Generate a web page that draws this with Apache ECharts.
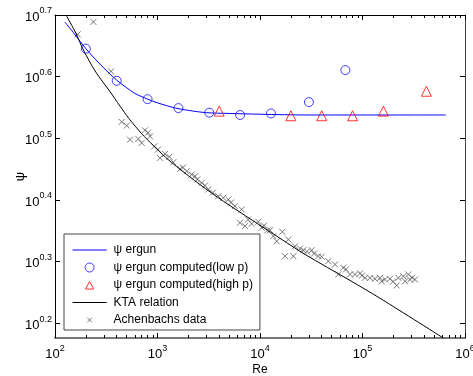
<!DOCTYPE html>
<html>
<head>
<meta charset="utf-8">
<script src="https://cdn.jsdelivr.net/npm/echarts@6/dist/echarts.min.js"></script>
<style>
html,body{margin:0;padding:0;background:#fff;}
#chart{width:473px;height:376px;}
</style>
</head>
<body>
<div id="chart"></div>
<script>
// ---- data ----
const ergunRe  = [125,150,200,250,300,400,500,600,800,1000,1500,2000,3000,5000,10000,30000,100000,300000,650000];
const ergunPsi = [4.88,4.70,4.42,4.24,4.11,3.93,3.82,3.74,3.66,3.61,3.54,3.51,3.48,3.47,3.46,3.45,3.45,3.45,3.45];

const lowRe  = [200,400,800,1600,3200,6400,12800,30000,68000];
const lowPsi = [4.42,3.92,3.66,3.54,3.48,3.45,3.47,3.62,4.08];

const highRe  = [4000,20000,40000,80000,160000,420000];
const highPsi = [3.50,3.44,3.44,3.44,3.50,3.77];

const ktaRe  = [130,160,189,250,344,430,527,700,910,1200,1540,2600,4390,12050,27480,75500,148200,614000];
const ktaPsi = [4.99,4.68,4.40,4.05,3.765,3.568,3.404,3.218,3.078,2.945,2.845,2.66,2.50,2.24,2.05,1.86,1.74,1.50];

const achRe = [237,166.5,352,447,501,755,845,539,650,701,931,1058,1184,1304,1426,1658,1927,2157,2323,2446,2699,3131,3920,4385,4906,5702,6630,6381,7139,8299,9625,10390,11780,12520,14560,16510,13490,18890,17540,21140,21950,26450,31940,37060,39990,46390,53920,58070,64960,75510,84520,94540,105800,118400,132400,148200,153900,165800,185500,215700,223600,250000,259800,279800,290700,325200,808,1011,1774,2907,3479,5213,7637,10940,24560,28730,33640,69020,98880,198400,304000];
const achPsi = [4.884,4.663,4.061,3.362,3.316,3.258,3.185,3.147,3.155,3.108,3.069,2.939,2.983,2.951,2.892,2.821,2.796,2.762,2.745,2.711,2.678,2.612,2.547,2.532,2.516,2.454,2.424,2.307,2.278,2.298,2.315,2.264,2.241,2.243,2.153,2.230,2.194,2.167,2.036,2.036,2.113,2.082,2.082,2.036,2.032,1.998,1.974,1.902,1.950,1.902,1.902,1.909,1.878,1.878,1.871,1.878,1.854,1.866,1.871,1.825,1.878,1.889,1.854,1.902,1.866,1.866,3.230,3.032,2.835,2.651,2.582,2.488,2.334,2.283,2.095,2.072,2.056,1.938,1.894,1.852,1.880];

const xTickExp = ['2','3','4','5','6'];
const yTickExp = ['0.2','0.3','0.4','0.5','0.6','0.7'];
const seriesNames = ['\u03c8 ergun','\u03c8 ergun computed(low p)','\u03c8 ergun computed(high p)','KTA relation','Achenbachs data'];

// ---- build ----
const zip = (a,b) => a.map((v,i)=>[v,b[i]]);
const xMajor = xTickExp.map(e => Math.pow(10, +e));
const yMajor = yTickExp.map(e => Math.pow(10, +e));
const xMinor = [];
for (let d = 2; d < 6; d++) for (let m = 2; m <= 9; m++) xMinor.push(m * Math.pow(10, d));
const XMIN = 100, XMAX = 1e6, YMIN = 1.5, YMAX = Math.pow(10, 0.7) * 1.0000001;
const FONT = "'Liberation Sans Narrow','Arial Narrow','Liberation Sans',Arial,sans-serif";

function fmt(exps) {
  return function (v) {
    const lv = Math.log10(v);
    let best = exps[0], bd = 1e9;
    exps.forEach(e => { const d = Math.abs(+e - lv); if (d < bd) { bd = d; best = e; } });
    return '{b|10}{s|' + best + '}';
  };
}
const rich = {
  b: {fontSize: 13, fontFamily: FONT, color: '#000', lineHeight: 17, verticalAlign: 'bottom'},
  s: {fontSize: 9, fontFamily: FONT, color: '#000', lineHeight: 9, verticalAlign: 'top'}
};

function xAx(position, major, showLabel) {
  return {
    type: 'log', logBase: 10, min: XMIN, max: XMAX, position: position, gridIndex: 0,
    axisLine: {show: major, lineStyle: position === 'bottom' ? {color: '#777', width: 2} : {color: '#000', width: 1}},
    axisTick: {show: true, inside: true, length: major ? 5 : 3, customValues: major ? xMajor : xMinor,
               lineStyle: {color: '#000', width: 1}},
    axisLabel: {show: showLabel, customValues: xMajor, formatter: fmt(xTickExp), rich: rich, margin: 6,
                showMinLabel: true, showMaxLabel: true, hideOverlap: false},
    splitLine: {show: false}, minorTick: {show: false},
    name: showLabel ? 'Re' : '', nameLocation: 'middle', nameGap: 26, nameMoveOverlap: false,
    nameTextStyle: {fontSize: 12, fontFamily: FONT, color: '#000'}
  };
}
function yAx(position, showLabel) {
  return {
    type: 'log', logBase: 10, min: YMIN, max: YMAX, position: position, gridIndex: 0,
    axisLine: {show: true, lineStyle: {color: position === 'left' ? '#000' : '#444', width: 1}},
    axisTick: {show: true, inside: true, length: 5, customValues: yMajor, lineStyle: {color: '#000'}},
    axisLabel: {show: showLabel, customValues: yMajor, formatter: fmt(yTickExp), rich: rich, margin: 3,
                showMinLabel: true, showMaxLabel: true, hideOverlap: false},
    splitLine: {show: false}, minorTick: {show: false},
    name: showLabel ? '\u03c8' : '', nameLocation: 'middle', nameGap: 28, nameRotate: 90, nameMoveOverlap: false,
    nameTextStyle: {fontSize: 13, fontFamily: FONT, color: '#000'}
  };
}

const lineIcon = 'path://M0,0M38,10M0,4.5L38,4.5L38,5.5L0,5.5Z';
const triIcon  = 'path://M0,0M38,10M14.5,9.5L19,1L23.5,9.5Z';
const xIcon    = 'path://M0,0M38,10M16.5,2.5L21.5,7.5M21.5,2.5L16.5,7.5';

const chart = echarts.init(document.getElementById('chart'), null, {renderer: 'canvas'});
chart.setOption({
  animation: false,
  backgroundColor: '#fff',
  grid: {left: 55, right: 8, top: 15, bottom: 38, containLabel: false, outerBoundsMode: 'none'},
  xAxis: [xAx('bottom', true, true), xAx('bottom', false, false), xAx('top', true, false), xAx('top', false, false)],
  yAxis: [yAx('left', true), yAx('right', false)],
  legend: {
    orient: 'vertical', left: 64, top: 234,
    padding: [9, 7, 3, 8], itemGap: 3.5, itemWidth: 38, itemHeight: 9, symbolKeepAspect: true,
    backgroundColor: '#fff', borderColor: '#444', borderWidth: 1, borderRadius: 0,
    textStyle: {fontSize: 12, fontFamily: "'Liberation Sans',Arial,sans-serif", color: '#000', lineHeight: 14},
    itemStyle: {borderWidth: 1},
    data: [
      {name: seriesNames[0], icon: lineIcon},
      {name: seriesNames[1]},
      {name: seriesNames[2], icon: triIcon},
      {name: seriesNames[3], icon: lineIcon},
      {name: seriesNames[4], icon: xIcon}
    ]
  },
  series: [
    {name: seriesNames[0], type: 'line', data: zip(ergunRe, ergunPsi), symbol: 'none', smooth: 0.3,
     lineStyle: {color: '#0000ff', width: 1}, itemStyle: {color: '#0000ff'}, z: 3},
    {name: seriesNames[1], type: 'scatter', data: zip(lowRe, lowPsi), symbol: 'circle', symbolSize: 9,
     itemStyle: {color: 'rgba(0,0,0,0)', borderColor: '#1010ff', borderWidth: 1}, z: 4},
    {name: seriesNames[2], type: 'scatter', data: zip(highRe, highPsi), symbol: 'triangle', symbolSize: 10,
     itemStyle: {color: 'rgba(0,0,0,0)', borderColor: '#ff0000', borderWidth: 1}, z: 4},
    {name: seriesNames[3], type: 'line', data: zip(ktaRe, ktaPsi), symbol: 'none', smooth: 0.3,
     lineStyle: {color: '#000', width: 1}, itemStyle: {color: '#000'}, z: 3},
    {name: seriesNames[4], type: 'scatter', data: zip(achRe, achPsi), symbol: 'path://M0,0L10,10M10,0L0,10', symbolSize: 6,
     itemStyle: {color: 'rgba(0,0,0,0)', borderColor: '#555', borderWidth: 1}, z: 2}
  ]
});
</script>
</body>
</html>
